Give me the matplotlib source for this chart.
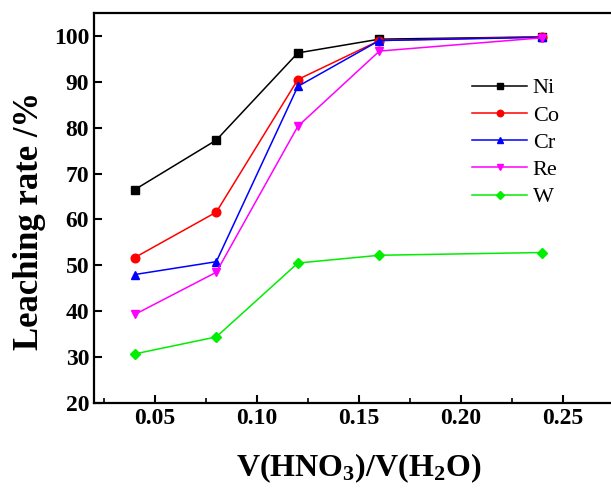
import matplotlib
matplotlib.use("Agg")
import matplotlib.pyplot as plt
from matplotlib.ticker import MultipleLocator

plt.rcParams['font.family'] = ['Liberation Serif', 'DejaVu Serif']
plt.rcParams['mathtext.fontset'] = 'custom'
plt.rcParams['mathtext.rm'] = 'Liberation Serif'
plt.rcParams['mathtext.bf'] = 'Liberation Serif:bold'

ratio = [0.04, 0.08, 0.12, 0.16, 0.24]
ni = [66.5, 77.3, 96.3, 99.3, 99.8]
co = [51.7, 61.6, 90.5, 99.0, 99.8]
cr = [48.0, 50.8, 89.0, 99.0, 99.7]
re = [39.3, 48.5, 80.3, 96.7, 99.6]
w = [30.7, 34.4, 50.5, 52.2, 52.8]

series = [
    ("Ni", ni, "black", "s"),
    ("Co", co, "red", "o"),
    ("Cr", cr, "blue", "^"),
    ("Re", re, "magenta", "v"),
    ("W", w, "#00ee00", "D"),
]

fig = plt.figure(figsize=(6.11, 4.91), dpi=100)
# axes run past the right edge, like the cropped original
ax = fig.add_axes([94 / 611, 88 / 491, 530 / 611, 390 / 491])

for name, vals, col, mk in series:
    ms = 5.2 if mk == "D" else 6.2
    ax.plot(ratio, vals, color=col, marker=mk, markersize=ms, linewidth=1.1, label=name)

ax.set_xlim(0.02, 0.28)
ax.set_ylim(20, 105)
ax.xaxis.set_minor_locator(MultipleLocator(0.025))
ax.yaxis.set_major_locator(MultipleLocator(10))
ax.set_xticks([0.05, 0.10, 0.15, 0.20, 0.25])
ax.set_xticklabels(["0.05", "0.10", "0.15", "0.20", "0.25"])

ax.tick_params(axis='both', which='major', direction='in', length=6, width=1.5,
               labelsize=17, top=False, right=False)
ax.tick_params(axis='x', which='minor', direction='in', length=3.5, width=1.2, top=False)
for lab in ax.get_xticklabels() + ax.get_yticklabels():
    lab.set_fontweight('bold')

for s in ["left", "bottom", "top"]:
    ax.spines[s].set_linewidth(1.6)
ax.spines["right"].set_visible(False)

ax.set_xlabel(r"$\mathbf{V(HNO_3)/V(H_2O)}$", fontsize=23, labelpad=16)
ax.set_ylabel("Leaching rate /%", fontsize=25, fontweight='bold')
ax.yaxis.set_label_coords(-0.09, 0.467)

leg = ax.legend(loc="upper left", bbox_to_anchor=(0.675, 0.885), frameon=False,
                fontsize=16, handlelength=2.5, labelspacing=0.3, handletextpad=0.25,
                markerscale=0.75)

fig.savefig("out.png", dpi=100)
